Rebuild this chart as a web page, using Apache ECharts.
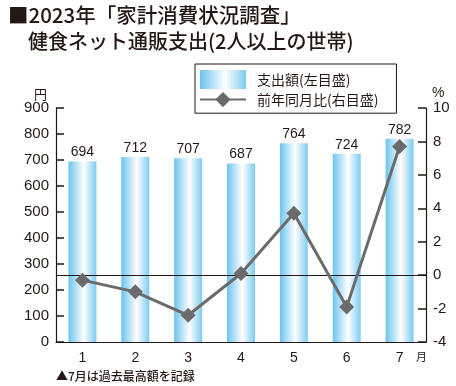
<!DOCTYPE html>
<html>
<head>
<meta charset="utf-8">
<script src="https://cdn.jsdelivr.net/npm/echarts@6/dist/echarts.min.js"></script>
<style>
html,body{margin:0;padding:0;background:#fff;}
#c{width:456px;height:386px;}
</style>
</head>
<body>
<div id="c"></div>
<script>
const months = ['1','2','3','4','5','6','7'];
const spending = [694, 712, 707, 687, 764, 724, 782];
const yoy = [-0.3, -1.0, -2.4, 0.1, 3.7, -1.9, 7.7];
const leftTicks = {min: 0, max: 900, interval: 100};
const rightTicks = {min: -4, max: 10, interval: 2};

const ink = '#231815';
const fontNum = '"Liberation Sans", Arial, sans-serif';
const fontJp = '"Noto Sans CJK JP", sans-serif';

const barGrad = new echarts.graphic.LinearGradient(0, 0, 1, 0, [
  {offset: 0, color: '#6cc4ee'},
  {offset: 0.55, color: '#ffffff'},
  {offset: 1, color: '#7ccbf0'}
]);

const chart = echarts.init(document.getElementById('c'), null, {renderer: 'canvas'});
chart.setOption({
  animation: false,
  backgroundColor: '#fff',
  grid: {left: 56, right: 30, top: 108, bottom: 44, containLabel: false},
  legend: {
    orient: 'vertical',
    left: 195, top: 64,
    padding: [6, 18, 6, 4],
    itemGap: 3,
    itemWidth: 46, itemHeight: 19,
    borderColor: ink, borderWidth: 1,
    backgroundColor: '#fff',
    textStyle: {fontFamily: fontJp, fontSize: 14, color: ink, padding: [0, 0, 0, 6]},
    data: [
      {name: '支出額(左目盛)', icon: 'rect'},
      {name: '前年同月比(右目盛)'}
    ]
  },
  xAxis: {
    type: 'category',
    data: months,
    boundaryGap: true,
    axisLine: {lineStyle: {color: ink, width: 1}},
    axisTick: {inside: true, length: 5, lineStyle: {color: ink}},
    axisLabel: {fontFamily: fontNum, fontSize: 14, color: ink, margin: 9}
  },
  yAxis: [
    {
      type: 'value', min: leftTicks.min, max: leftTicks.max, interval: leftTicks.interval,
      name: '円', nameGap: 7,
      nameTextStyle: {fontFamily: fontJp, fontSize: 13, color: ink, align: 'right', padding: [0, 9, 0, 0]},
      axisLine: {show: true, lineStyle: {color: ink, width: 1.2}},
      axisTick: {show: true, inside: true, length: 8, lineStyle: {color: ink, width: 1.5}},
      axisLabel: {fontFamily: fontNum, fontSize: 15, color: ink, margin: 7},
      splitLine: {show: false}
    },
    {
      type: 'value', min: rightTicks.min, max: rightTicks.max, interval: rightTicks.interval,
      name: '%', nameGap: 4,
      nameTextStyle: {fontFamily: fontNum, fontSize: 14, color: ink, align: 'left', padding: [0, 0, 0, 6]},
      position: 'right',
      axisLine: {show: true, lineStyle: {color: ink, width: 1.2}},
      axisTick: {show: true, inside: true, length: 8, lineStyle: {color: ink, width: 1.5}},
      axisLabel: {fontFamily: fontNum, fontSize: 15, color: ink, margin: 7},
      splitLine: {show: false}
    }
  ],
  series: [
    {
      name: '支出額(左目盛)',
      type: 'bar',
      yAxisIndex: 0,
      data: spending,
      barWidth: 28,
      itemStyle: {color: barGrad},
      label: {show: true, position: 'top', distance: 2, fontFamily: fontNum, fontSize: 14, color: ink}
    },
    {
      name: '前年同月比(右目盛)',
      type: 'line',
      yAxisIndex: 1,
      data: yoy,
      symbol: 'diamond',
      symbolSize: 15,
      lineStyle: {color: '#6b6b6b', width: 3},
      itemStyle: {color: '#6b6b6b'},
      z: 5,
      markLine: {
        silent: true, symbol: 'none', label: {show: false},
        lineStyle: {color: ink, width: 1, type: 'solid'},
        data: [{yAxis: 0}]
      }
    }
  ],
  graphic: [
    {type: 'text', left: 8, top: 5, style: {text: '■2023年「家計消費状況調査」', font: '500 20.5px "Noto Sans CJK JP"', fill: ink}},
    {type: 'text', left: 28, top: 31, style: {text: '健食ネット通販支出(2人以上の世帯)', font: '500 20px "Noto Sans CJK JP"', fill: ink}},
    {type: 'text', left: 416, top: 351, style: {text: '月', font: '11px "Noto Sans CJK JP"', fill: ink}},
    {type: 'text', left: 56, top: 370, style: {text: '▲7月は過去最高額を記録', font: '500 12px "Noto Sans CJK JP"', fill: ink}}
  ]
});
</script>
</body>
</html>
